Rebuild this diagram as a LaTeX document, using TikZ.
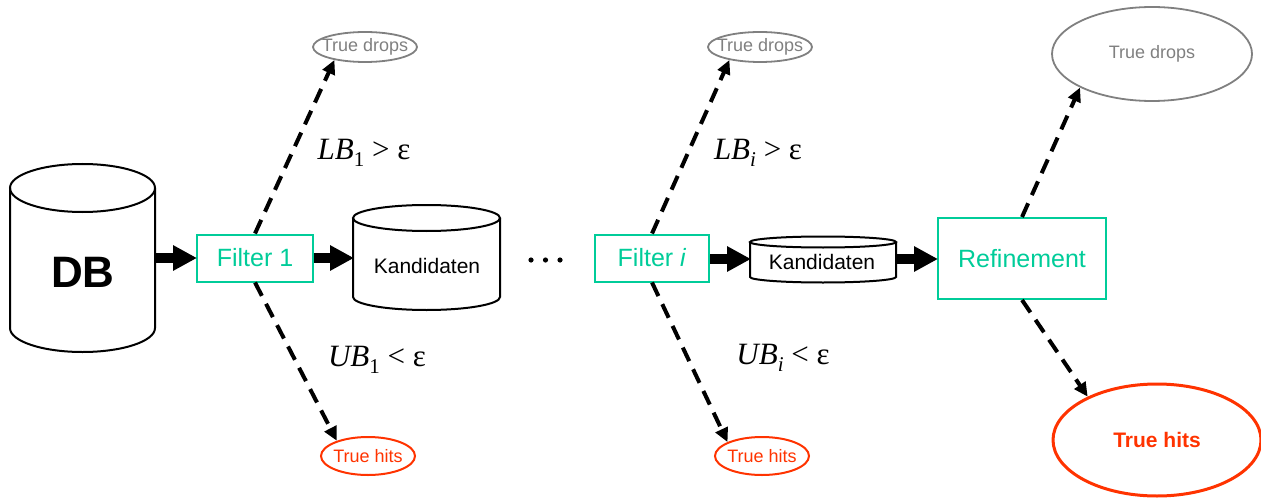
\documentclass[tikz,border=0pt]{standalone}
\usepackage{fontspec}
\setmainfont{Liberation Sans}
\newfontfamily\tmr{Liberation Serif}
\usetikzlibrary{arrows.meta,shapes.geometric}
\definecolor{fgreen}{RGB}{0,204,153}
\definecolor{dgray}{RGB}{128,128,128}
\definecolor{hred}{RGB}{255,51,0}
\newcommand\mycyl[5]{%
  \draw[cylst] (#1,-#3) -- (#1,-#4) arc[start angle=180,end angle=360,x radius={(#2-#1)*0.25pt},y radius={#5*0.5pt}] -- (#2,-#3);
  \draw[cylst] ({(#1+#2)/2},-#3) ellipse[x radius={(#2-#1)*0.25pt},y radius={#5*0.5pt}];}
\tikzset{
  cylst/.style={line width=1pt,black},
  filt/.style={draw=fgreen,line width=1pt,text=fgreen,font=\fontsize{12.5}{14}\selectfont,inner sep=0pt},
  bigarr/.style={line width=5pt,-{Triangle[length=12pt,width=12pt]},shorten >=-0.5pt},
  dasharr/.style={line width=2pt,dash pattern=on 7.5pt off 4.5pt,-{Triangle[length=7pt,width=6.5pt]}},
  drops/.style={ellipse,draw=dgray,line width=0.9pt,text=dgray,inner ysep=0pt,inner xsep=-8pt,font=\fontsize{9}{10}\selectfont},
  hits/.style={ellipse,draw=hred,line width=1pt,text=hred,inner ysep=0pt,inner xsep=-8pt,font=\fontsize{9}{10}\selectfont},
  lbl/.style={font=\tmr\fontsize{15.5}{17}\selectfont,inner sep=0pt},
  ghost/.style={inner sep=0pt,outer sep=0pt}
}
\newcommand\sub[1]{\raisebox{-0.45ex}{\fontsize{10.5}{11}\selectfont #1}}
\begin{document}
\begin{tikzpicture}[x=0.5pt,y=0.5pt]
\useasboundingbox (0,0) rectangle (1261,-497);
% cylinders
\mycyl{10}{155}{188}{328}{24}
\node[ghost,minimum width=72.5pt,minimum height=93pt] (db) at (82.5,-258) {};
\node[font=\bfseries\fontsize{22}{24}\selectfont] (dbt) at (83,-272) {DB};
\mycyl{353}{500}{218}{297}{13}
\node[ghost,minimum width=73.5pt,minimum height=52pt] (k1) at (426.5,-258) {};
\node[font=\fontsize{10.5}{12}\selectfont] (k1t) at (427,-266) {Kandidaten};
\mycyl{750}{896}{242}{277}{5.5}
\node[ghost,minimum width=73pt,minimum height=22pt] (k2) at (823,-259) {};
\node[font=\fontsize{10.5}{12}\selectfont] (k2t) at (822,-262) {Kandidaten};
% boxes
\node[filt,minimum width=58pt,minimum height=23.5pt] (f1) at (255,-258) {Filter 1};
\node[filt,minimum width=57pt,minimum height=23.5pt] (fi) at (652,-258) {Filter \textit{i}};
\node[filt,minimum width=84pt,minimum height=40.5pt] (rf) at (1022,-258.5) {Refinement};
% dots
\foreach \dx in {531,545.5,560} \fill (\dx,-260) circle[radius=1.3pt];
% ellipses
\node[drops,minimum width=52pt,minimum height=15pt] (td1) at (365,-47) {True drops};
\node[drops,minimum width=52pt,minimum height=15pt] (td2) at (760,-47) {True drops};
\node[drops,minimum width=100pt,minimum height=47pt] (td3) at (1152,-54) {True drops};
\node[hits,minimum width=47pt,minimum height=19pt] (th1) at (368,-456) {True hits};
\node[hits,minimum width=47pt,minimum height=19pt] (th2) at (762,-456) {True hits};
\node[hits,line width=1.5pt,minimum width=104pt,minimum height=56pt,font=\bfseries\fontsize{10.5}{12}\selectfont] (th3) at (1157,-440) {True hits};
% thick arrows
\draw[bigarr] (db.east) -- (f1.west);
\draw[bigarr] (f1.east) -- (k1.west);
\draw[bigarr] (fi.east |- k2.west) -- (k2.west);
\draw[bigarr] (k2.east) -- (rf.west |- k2.east);
% dashed arrows
\draw[dasharr] (f1.north) -- (td1.203);
\draw[dasharr] (f1.south) -- (th1.154);
\draw[dasharr] (fi.north) -- (td2.203);
\draw[dasharr] (fi.south) -- (th2.158);
\draw[dasharr] (rf.north) -- (td3.205);
\draw[dasharr] (rf.south) -- (th3.148);
% labels
\node[lbl] (l1) at (364,-153) {\textit{LB}\sub{1} > ε};
\node[lbl] (u1) at (377,-360) {\textit{UB}\sub{1} < ε};
\node[lbl] (li) at (758,-153) {\textit{LB}\sub{\textit{i}} > ε};
\node[lbl] (ui) at (783,-358) {\textit{UB}\sub{\textit{i}} < ε};
\end{tikzpicture}
\end{document}
